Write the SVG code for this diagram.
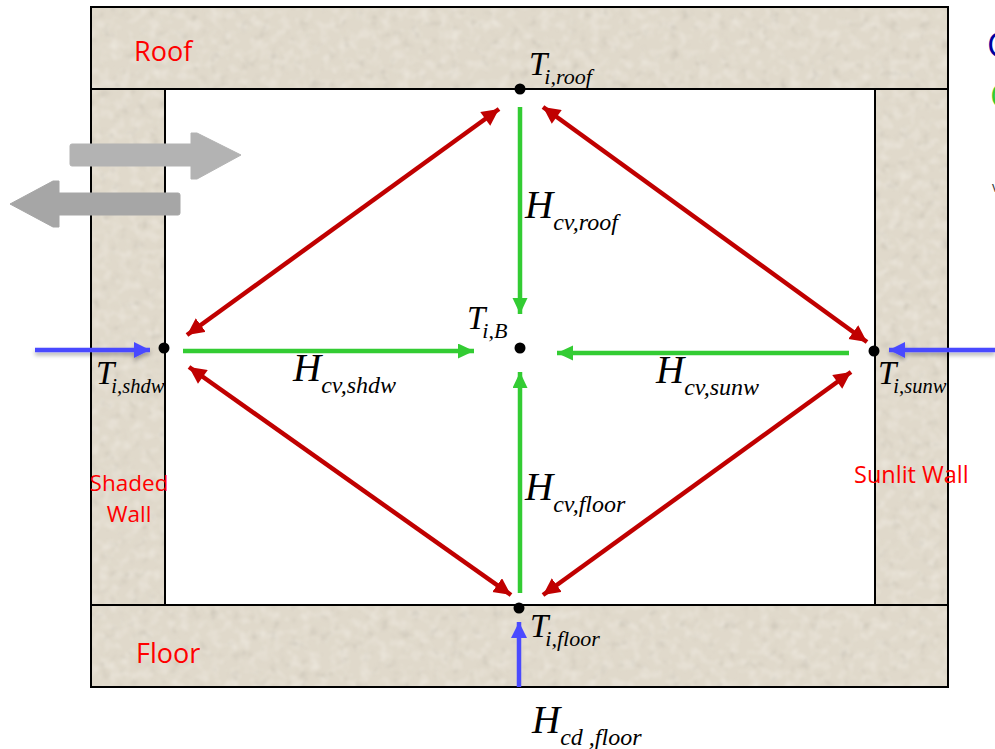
<svg xmlns="http://www.w3.org/2000/svg" width="995" height="749" viewBox="0 0 995 749">
<style>
.wall{fill:#e0d9cb;filter:url(#tex)}
.edge{fill:none;stroke:#000;stroke-width:2}
.lbl{font-family:"Open Sans","Noto Sans",sans-serif;fill:#f00}
.m{font-family:"Liberation Serif",serif;font-style:italic;fill:#000}
.t{font-size:33px}
.ts{font-size:22px}
.tn{font-size:20.5px}
.h{font-size:39px}
.hs{font-size:24px}
.red{stroke:#c00000;stroke-width:4.5;fill:none;marker-start:url(#rs);marker-end:url(#re)}
.grn{stroke:#33cc33;stroke-width:4.5;fill:none;marker-end:url(#ge)}
.blu{stroke:#4a4aff;stroke-width:4.5;fill:none;marker-end:url(#be)}
.dot{fill:#000}
</style>
<defs>
<filter id="tex" x="0" y="0" width="100%" height="100%">
<feTurbulence type="fractalNoise" baseFrequency="0.1" numOctaves="2" seed="11" result="n"/>
<feColorMatrix in="n" type="matrix" values="0 0 0 0 0.97  0 0 0 0 0.95  0 0 0 0 0.90  0.8 0 0 0 -0.36" result="light"/>
<feColorMatrix in="n" type="matrix" values="0 0 0 0 0.40  0 0 0 0 0.37  0 0 0 0 0.32  0 1.1 0 0 -0.66" result="dark"/>
<feGaussianBlur in="light" stdDeviation="1.2" result="lb"/>
<feGaussianBlur in="dark" stdDeviation="1" result="db"/>
<feMerge result="m"><feMergeNode in="SourceGraphic"/><feMergeNode in="lb"/><feMergeNode in="db"/></feMerge>
<feComposite in="m" in2="SourceGraphic" operator="in"/>
</filter>
<filter id="sh" filterUnits="userSpaceOnUse" x="0" y="320" width="995" height="60"><feDropShadow dx="0" dy="3" stdDeviation="2" flood-color="#000" flood-opacity="0.3"/></filter>
<marker id="re" markerUnits="userSpaceOnUse" markerWidth="20" markerHeight="18" refX="17" refY="8.5" orient="auto"><path d="M0 0L17 8.5L0 17Z" fill="#c00000"/></marker>
<marker id="rs" markerUnits="userSpaceOnUse" markerWidth="20" markerHeight="18" refX="0" refY="8.5" orient="auto"><path d="M17 0L0 8.5L17 17Z" fill="#c00000"/></marker>
<marker id="ge" markerUnits="userSpaceOnUse" markerWidth="18" markerHeight="16" refX="16" refY="7.5" orient="auto"><path d="M0 0L16 7.5L0 15Z" fill="#33cc33"/></marker>
<marker id="be" markerUnits="userSpaceOnUse" markerWidth="18" markerHeight="18" refX="16" refY="8" orient="auto"><path d="M0 0L16 8L0 16Z" fill="#4a4aff"/></marker>
</defs>

<g id="roof"><rect class="wall" x="91" y="8" width="857" height="81"/><rect class="edge" x="91" y="7" width="857" height="82"/><text class="lbl" x="134" y="61" font-size="27">Roof</text></g>
<g id="shaded-wall"><rect class="wall" x="91" y="90" width="74" height="515"/><path class="edge" d="M91 89V605M165 89V605"/><text class="lbl" x="129" y="491" font-size="22.5" text-anchor="middle">Shaded</text><text class="lbl" x="129" y="522" font-size="22.5" text-anchor="middle">Wall</text></g>
<g id="sunlit-wall"><rect class="wall" x="875" y="90" width="73" height="515"/><path class="edge" d="M875 89V605M948 89V605"/><text class="lbl" x="854" y="483" font-size="23.5">Sunlit Wall</text></g>
<g id="floor"><rect class="wall" x="91" y="606" width="857" height="81"/><rect class="edge" x="91" y="605" width="857" height="82"/><text class="lbl" x="136" y="663" font-size="27">Floor</text></g>

<g id="ventilation">
<path d="M72 144H191V133H197L241 155L197 179H191V166H72Q70 166 70 164V146Q70 144 72 144Z" fill="#b3b3b3" stroke="#b3b3b3" stroke-linejoin="round"/>
<path d="M178 193H59V181H53L10 204L53 227H59V215H178Q180 215 180 213V195Q180 193 178 193Z" fill="#a6a6a6" stroke="#a6a6a6" stroke-linejoin="round"/>
</g>

<g id="connectors">
<path class="red" d="M499 109L187 335"/>
<path class="red" d="M543 107L867 342"/>
<path class="red" d="M189 367L511 595"/>
<path class="red" d="M851 372L543 595"/>
<path class="grn" d="M520 107V314"/>
<path class="grn" d="M183 351H474"/>
<path class="grn" d="M849 353H557"/>
<path class="grn" d="M520 593V372"/>
<path class="blu" d="M35 350H150" filter="url(#sh)"/>
<path class="blu" d="M995 350H889" filter="url(#sh)"/>
<path class="blu" d="M519 687V622"/>
</g>

<g id="node-roof"><circle class="dot" cx="520" cy="89" r="5.5"/><text class="m t" x="529" y="75">T<tspan class="ts" dx="-3" dy="9">i,roof</tspan></text></g>
<g id="node-b"><circle class="dot" cx="520" cy="348" r="5.5"/><text class="m t" x="467" y="329">T<tspan class="ts" dx="-3" dy="9">i,B</tspan></text></g>
<g id="node-shdw"><circle class="dot" cx="164" cy="348" r="5.5"/><text class="m t" x="96" y="384">T<tspan class="tn" dx="-3" dy="9">i,shdw</tspan></text></g>
<g id="node-sunw"><circle class="dot" cx="874" cy="351" r="5.5"/><text class="m t" x="878" y="384">T<tspan class="tn" dx="-3" dy="9">i,sunw</tspan></text></g>
<g id="node-floor"><circle class="dot" cx="519" cy="608" r="5.5"/><text class="m t" x="530" y="637">T<tspan class="ts" dx="-3" dy="9">i,floor</tspan></text></g>

<g id="labels">
<text class="m h" x="525" y="218">H<tspan class="hs" dy="12">cv,roof</tspan></text>
<text class="m h" x="293" y="381">H<tspan class="hs" dy="12">cv,shdw</tspan></text>
<text class="m h" x="656" y="383">H<tspan class="hs" dy="12">cv,sunw</tspan></text>
<text class="m h" x="525" y="500">H<tspan class="hs" dy="12">cv,floor</tspan></text>
<text class="m h" x="532" y="733">H<tspan class="hs" dy="12">cd ,floor</tspan></text>
</g>

<g id="cut-off">
<text x="987" y="57" font-family="Open Sans,sans-serif" font-size="34" fill="#0000a0">C</text>
<text x="990" y="108" font-family="Open Sans,sans-serif" font-size="34" fill="#33cc33">C</text>
<text x="992" y="192" font-family="Open Sans,sans-serif" font-size="14" fill="#333">v</text>
</g>
</svg>
